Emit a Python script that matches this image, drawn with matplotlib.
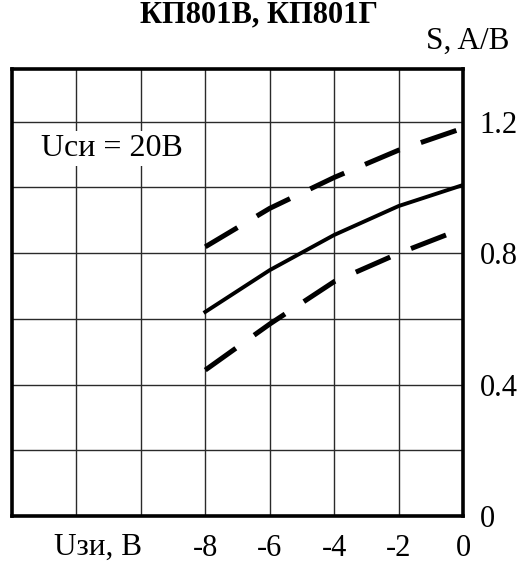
import matplotlib
matplotlib.use("Agg")
import matplotlib.pyplot as plt

# gate-source voltage, V
u_gs = [-8, -6, -4, -2, 0]
# transconductance, A/V
s_typ = [0.621, 0.748, 0.855, 0.943, 1.007]
s_max = [0.819, 0.936, 1.030, 1.113, 1.180]
s_min = [0.444, 0.584, 0.713, 0.799, 0.875]

x_ticks = [-8, -6, -4, -2, 0]
y_ticks = [0, 0.4, 0.8, 1.2]

plt.rcParams["font.family"] = ["Liberation Serif", "DejaVu Serif"]

fig = plt.figure(figsize=(5.29, 5.73), dpi=100)
W, H = 529, 573
ax = fig.add_axes([12 / W, 1 - 516 / H, (463 - 12) / W, (516 - 69) / H])

ax.set_xlim(-14, 0)
ax.set_ylim(0, 1.36)

# grid
for gx in range(-12, 0, 2):
    ax.axvline(gx, color="#2a2a2a", lw=1.0, zorder=1)
for gy in [0.2, 0.4, 0.6, 0.8, 1.0, 1.2]:
    ax.axhline(gy, color="#2a2a2a", lw=1.0, zorder=1)

ax.plot(u_gs, s_typ, color="black", lw=2.8, zorder=3)
ax.plot(u_gs, s_max, color="black", lw=3.6, dashes=(7.5, 4.5), zorder=3)
ax.plot(u_gs, s_min, color="black", lw=3.6, dashes=(7.5, 4.5), zorder=3)

for sp in ax.spines.values():
    sp.set_linewidth(2.6)
    sp.set_color("black")

ax.set_xticks(x_ticks)
ax.set_xticklabels([str(v) for v in x_ticks])
ax.set_yticks(y_ticks)
ax.set_yticklabels(["0", "0.4", "0.8", "1.2"])
ax.yaxis.tick_right()
ax.tick_params(axis="both", length=0, labelsize=22)
ax.tick_params(axis="x", pad=13)
ax.tick_params(axis="y", pad=12)

ax.text(-13.1, 1.117, "Uси = 20В", fontsize=23, ha="left", va="center",
        bbox=dict(facecolor="white", edgecolor="none", pad=2), zorder=4)

fig.text(98 / W, 1 - 547 / H, "Uзи, В", fontsize=22.5, ha="center", va="center")
fig.text(468 / W, 1 - 49 / H, "S, A/B", fontsize=22.5, ha="center", va="baseline")
fig.text(259 / W, 1 - 22 / H, "КП801В, КП801Г", fontsize=22, fontweight="bold",
         ha="center", va="baseline")

fig.savefig("out.png", dpi=100)
